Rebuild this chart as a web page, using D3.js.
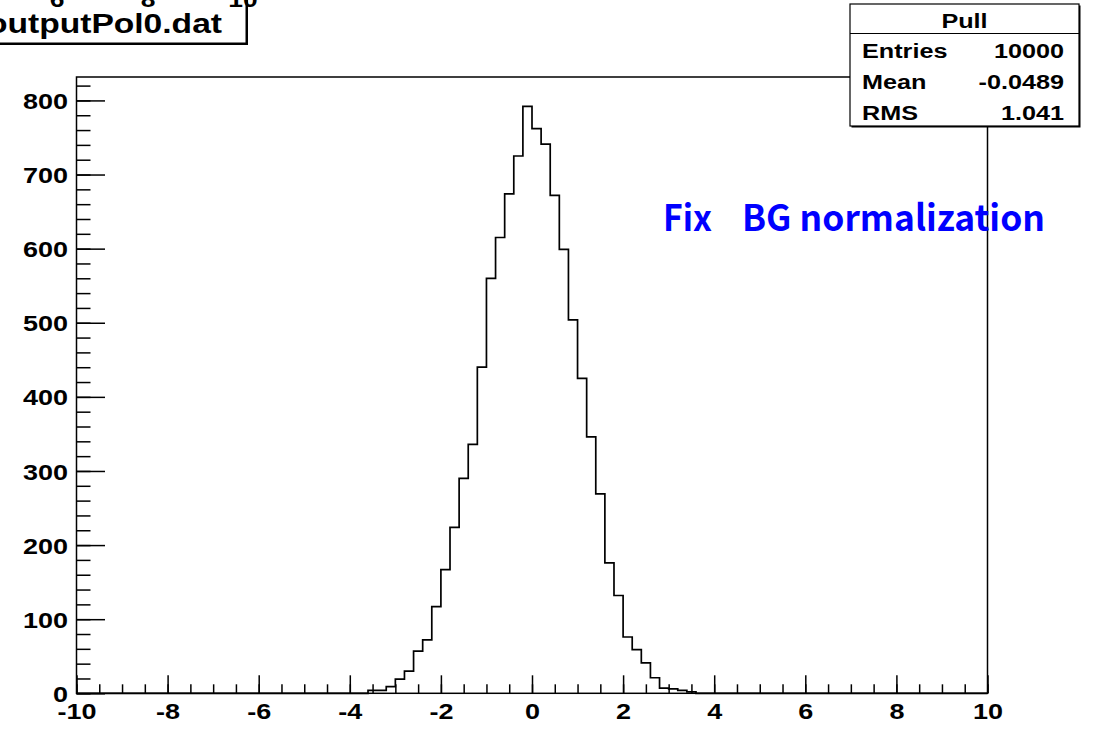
<!DOCTYPE html>
<html>
<head>
<meta charset="utf-8">
<script src="https://cdn.jsdelivr.net/npm/d3@7/dist/d3.min.js"></script>
<style>
  html, body { margin: 0; padding: 0; background: #fff; }
  svg { display: block; }
</style>
</head>
<body>
<script>
// Pull distribution, 100 bins of width 0.2 over [-10, 10]; bins not listed are empty.
const binLeft = [-3.6, -3.4, -3.2, -3.0, -2.8, -2.6, -2.4, -2.2, -2.0, -1.8,
                 -1.6, -1.4, -1.2, -1.0, -0.8, -0.6, -0.4, -0.2, 0.0, 0.2,
                 0.4, 0.6, 0.8, 1.0, 1.2, 1.4, 1.6, 1.8, 2.0, 2.2,
                 2.4, 2.6, 2.8, 3.0, 3.2, 3.4];
const counts  = [4, 4, 9, 19, 30, 57, 72, 117, 167, 224,
                 290, 336, 440, 560, 615, 674, 725, 792, 762, 741,
                 672, 599, 504, 425, 346, 269, 176, 132, 76, 59,
                 41, 21, 7, 6, 4, 2];
const binWidth = 0.2;
const xDomain = [-10, 10];

const xMajorTicks = [-10, -8, -6, -4, -2, 0, 2, 4, 6, 8, 10];
const yMajorTicks = [0, 100, 200, 300, 400, 500, 600, 700, 800];

const statsTitle = "Pull";
const statsLabels = ["Entries", "Mean", "RMS"];
const statsValues = ["10000", "-0.0489", "1.041"];

const histTitle = "outputPol0.dat";
const upperPadLabels = ["6", "8", "10"];
const upperPadLabelX = [57, 148, 243];
const annotation = "Fix  BG normalization";

const W = 1096, H = 729;
const frame = { left: 76.5, right: 987.5, top: 77, bottom: 693.3 };
const yMax = d3.max(counts) * 1.05;
const FONT = "'Liberation Sans', Arial, Helvetica, sans-serif";
const SX = 1.2; // horizontal stretch of the bold text

const svg = d3.select("body").append("svg")
  .attr("width", W).attr("height", H);

svg.append("rect").attr("width", W).attr("height", H).attr("fill", "#fff");

const x = d3.scaleLinear().domain(xDomain).range([frame.left, frame.right]);
const y = d3.scaleLinear().domain([0, yMax]).range([frame.bottom, frame.top]);

// Bold stretched text helper
function stretchedText(g, str, px, py, size, anchor) {
  return g.append("text")
    .attr("transform", `translate(${px},${py}) scale(${SX},1)`)
    .attr("font-family", FONT).attr("font-weight", "bold")
    .attr("font-size", size).attr("text-anchor", anchor || "start")
    .attr("fill", "#000").text(str);
}

// Histogram outline (all 100 bins, empty bins sit on the baseline)
const allBins = d3.range(100).map(i => {
  const lo = xDomain[0] + i * binWidth;
  const k = binLeft.findIndex(b => Math.abs(b - lo) < 1e-6);
  return { lo: lo, hi: lo + binWidth, n: k >= 0 ? counts[k] : 0 };
});
const pts = [[x(allBins[0].lo), y(0)]];
allBins.forEach(b => { pts.push([x(b.lo), y(b.n)]); pts.push([x(b.hi), y(b.n)]); });
pts.push([x(allBins[allBins.length - 1].hi), y(0)]);
svg.append("path")
  .attr("d", d3.line()(pts))
  .attr("fill", "none").attr("stroke", "#000").attr("stroke-width", 1.7)
  .attr("stroke-linejoin", "miter");

// Frame
svg.append("rect")
  .attr("x", frame.left).attr("y", frame.top)
  .attr("width", frame.right - frame.left).attr("height", frame.bottom - frame.top)
  .attr("fill", "none").attr("stroke", "#000").attr("stroke-width", 1.5);

const plainFormat = d => String(d); // hyphen-minus in the axis labels

// X axis: major + minor ticks pointing into the frame
const xMinor = d3.range(-10, 10.001, 0.5);
const xMinorAxis = svg.append("g").attr("transform", `translate(0,${frame.bottom})`)
  .call(d3.axisBottom(x).tickValues(xMinor).tickSize(-9).tickSizeOuter(0).tickFormat(""));
const xMajorAxis = svg.append("g").attr("transform", `translate(0,${frame.bottom})`)
  .call(d3.axisBottom(x).tickValues(xMajorTicks).tickSize(-18).tickSizeOuter(0).tickPadding(10)
        .tickFormat(plainFormat));

// Y axis
const yMinor = d3.range(0, 821, 20);
const yMinorAxis = svg.append("g").attr("transform", `translate(${frame.left},0)`)
  .call(d3.axisLeft(y).tickValues(yMinor).tickSize(-14).tickSizeOuter(0).tickFormat(""));
const yMajorAxis = svg.append("g").attr("transform", `translate(${frame.left},0)`)
  .call(d3.axisLeft(y).tickValues(yMajorTicks).tickSize(-28.5).tickSizeOuter(0).tickPadding(7)
        .tickFormat(plainFormat));

[xMinorAxis, xMajorAxis, yMinorAxis, yMajorAxis].forEach(g => {
  g.select(".domain").remove();
  g.selectAll(".tick line").attr("stroke", "#000").attr("stroke-width", 1.5);
});

xMajorAxis.selectAll(".tick text")
  .attr("font-family", FONT).attr("font-weight", "bold").attr("font-size", 22.5)
  .attr("fill", "#000").attr("dy", null).attr("y", 26)
  .attr("transform", `scale(${SX},1)`);
yMajorAxis.selectAll(".tick text")
  .attr("font-family", FONT).attr("font-weight", "bold").attr("font-size", 22.5)
  .attr("fill", "#000").attr("dy", "0.36em").attr("x", -7)
  .attr("transform", `scale(${SX},1)`);

// Title box (top-left), partly outside the canvas
const tb = { x: -10, y: -10, w: 256, h: 53 };
svg.append("rect").attr("x", tb.x + 2).attr("y", tb.y + 2).attr("width", tb.w).attr("height", tb.h)
  .attr("fill", "#000");
svg.append("rect").attr("x", tb.x).attr("y", tb.y).attr("width", tb.w).attr("height", tb.h)
  .attr("fill", "#fff").attr("stroke", "#000").attr("stroke-width", 1);
stretchedText(svg, histTitle, 222, 33, 28, "end");

// Axis labels of the pad above, mostly cut off by the top edge
upperPadLabels.forEach((t, i) => stretchedText(svg, t, upperPadLabelX[i], 7, 22, "middle"));

// Statistics box
const sb = { x: 850, y: 4, w: 229, h: 122, divider: 33.5 };
svg.append("rect").attr("x", sb.x + 1.5).attr("y", sb.y + 1.5).attr("width", sb.w).attr("height", sb.h)
  .attr("fill", "#000");
svg.append("rect").attr("x", sb.x).attr("y", sb.y).attr("width", sb.w).attr("height", sb.h)
  .attr("fill", "#fff").attr("stroke", "#000").attr("stroke-width", 1.2);
svg.append("line").attr("x1", sb.x).attr("x2", sb.x + sb.w)
  .attr("y1", sb.divider).attr("y2", sb.divider)
  .attr("stroke", "#000").attr("stroke-width", 1.2);
stretchedText(svg, statsTitle, sb.x + sb.w / 2, 28, 21, "middle");
const rowY = [58, 89, 120];
statsLabels.forEach((t, i) => {
  stretchedText(svg, t, 862, rowY[i], 21, "start");
  stretchedText(svg, statsValues[i], 1064, rowY[i], 21, "end");
});

// Annotation: the two words-groups are separated by a wide gap
const annParts = annotation.split(/\s{2,}/);
const annX = [663, 742], annLen = [49, 303];
annParts.forEach((t, i) => {
  svg.append("text")
    .attr("x", annX[i]).attr("y", 231)
    .attr("font-family", "'Noto Sans CJK JP', 'Noto Sans', sans-serif")
    .attr("font-weight", "bold").attr("font-size", 36)
    .attr("fill", "#0000ff")
    .attr("textLength", annLen[i]).attr("lengthAdjust", "spacingAndGlyphs")
    .text(t);
});
</script>
</body>
</html>
